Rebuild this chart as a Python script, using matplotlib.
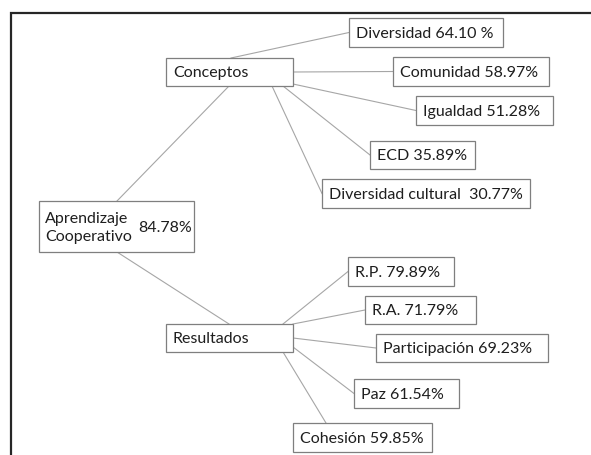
import matplotlib.pyplot as plt
from matplotlib.patches import Rectangle

plt.rcParams["font.family"] = ["Lato", "DejaVu Sans"]

# data
root_label = "Aprendizaje\nCooperativo"
root_value = 84.78
concept_labels = ["Diversidad", "Comunidad", "Igualdad", "ECD", "Diversidad cultural"]
concept_values = ["64.10 %", "58.97%", "51.28%", "35.89%", "30.77%"]
result_labels = ["R.P.", "R.A.", "Participación", "Paz", "Cohesión"]
result_values = ["79.89%", "71.79%", "69.23%", "61.54%", "59.85%"]

# layout (pixel space, y down): x0, y0, x1, y1
root_box = (39, 202, 194, 253)
concept_box = (166, 59, 293, 87)
result_box = (166, 325, 293, 353)
concept_child_boxes = [(349, 19, 503, 48), (393, 58, 549, 87), (416, 97, 553, 126),
                       (370, 142, 475, 170), (322, 180, 530, 209)]
result_child_boxes = [(348, 258, 454, 287), (365, 297, 476, 325), (376, 335, 548, 363),
                      (354, 380, 459, 409), (293, 424, 432, 453)]
# where each link leaves its parent box
concept_starts = [(231, 59), (293, 73), (293, 85), (283, 87), (272, 87)]
result_starts = [(283, 325), (293, 325), (293, 339), (293, 348), (283, 353)]

W, H = 591, 456
BOX_EC = "#7f7f7f"
LINK_C = "#a6a6a6"
TXT_C = "#1e1e1e"
FS = 11.5

fig = plt.figure(figsize=(W / 100, H / 100), dpi=100)
ax = fig.add_axes([0, 0, 1, 1])
ax.set_xlim(0, W)
ax.set_ylim(H, 0)
ax.axis("off")

# outer frame (top and left only visible)
ax.plot([11, 11, W], [H, 14, 14], color="#262626", lw=1.6, solid_joinstyle="miter")


def box(b, text=None, pad=7):
    x0, y0, x1, y1 = b
    ax.add_patch(Rectangle((x0, y0), x1 - x0, y1 - y0, fc="white", ec=BOX_EC, lw=0.9, zorder=3))
    if text is not None:
        ax.text(x0 + pad, (y0 + y1) / 2 + 0.5, text, ha="left", va="center",
                fontsize=FS, color=TXT_C, zorder=4)


def link(p, q):
    ax.plot([p[0], q[0]], [p[1], q[1]], color=LINK_C, lw=0.8, zorder=2)


# root links
link((117, root_box[1]), (229, concept_box[3]))
link((117, root_box[3]), (229, result_box[1]))

for start, b in zip(concept_starts, concept_child_boxes):
    link(start, (b[0], (b[1] + b[3]) / 2))
for i, (start, b) in enumerate(zip(result_starts, result_child_boxes)):
    if i == len(result_child_boxes) - 1:
        link(start, (b[0] + 33, b[1]))
    else:
        link(start, (b[0], (b[1] + b[3]) / 2))

# boxes
box(root_box)
ax.text(root_box[0] + 6, 228, root_label, ha="left", va="center", fontsize=FS,
        color=TXT_C, linespacing=1.35, zorder=4)
ax.text(root_box[2] - 2, 228, f"{root_value:.2f}%", ha="right", va="center",
        fontsize=FS, color=TXT_C, zorder=4)
box(concept_box, "Conceptos")
box(result_box, "Resultados")

for lab, val, b in zip(concept_labels, concept_values, concept_child_boxes):
    sep = "  " if lab == "Diversidad cultural" else " "
    box(b, lab + sep + val)
for lab, val, b in zip(result_labels, result_values, result_child_boxes):
    box(b, lab + " " + val)

fig.savefig("out.png", dpi=100, facecolor="white")
